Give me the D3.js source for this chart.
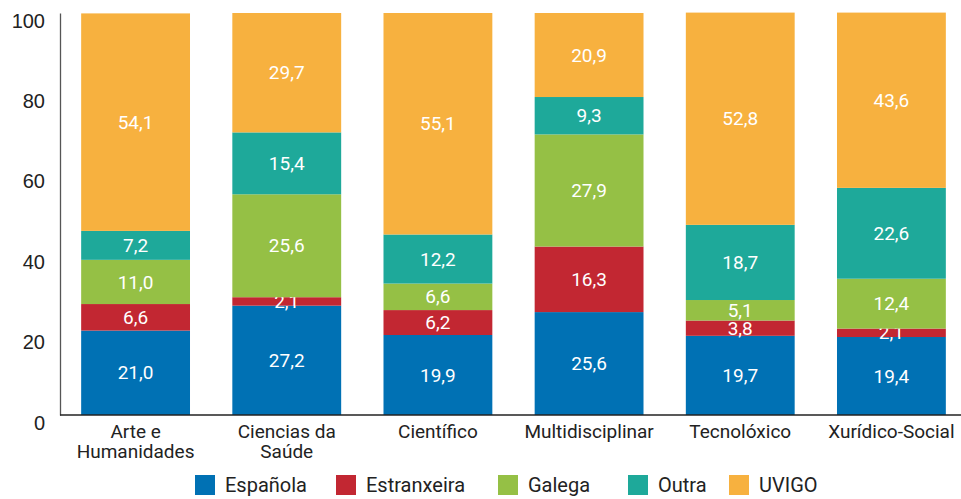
<!DOCTYPE html>
<html lang="gl">
<head>
<meta charset="utf-8">
<title>Stacked bars</title>
<script src="https://cdn.jsdelivr.net/npm/d3@7"></script>
<style>
  body { margin: 0; background: #fff; }
  svg { display: block; font-family: Roboto, "Open Sans", sans-serif; }
  .tick text { fill: #222; font-size: 20px; }
  .cat { fill: #222; font-size: 19px; }
  .val { fill: #fff; font-size: 19px; }
  .leg { fill: #222; font-size: 20px; }
</style>
</head>
<body>
<svg width="961" height="499"></svg>
<script>
// categories (second line of label after "\n")
var categories = ["Arte e\nHumanidades", "Ciencias da\nSaúde", "Científico", "Multidisciplinar", "Tecnolóxico", "Xurídico-Social"];
var seriesNames = ["Española", "Estranxeira", "Galega", "Outra", "UVIGO"];
var espanola    = [21.0, 27.2, 19.9, 25.6, 19.7, 19.4];
var estranxeira = [6.6, 2.1, 6.2, 16.3, 3.8, 2.1];
var galega      = [11.0, 25.6, 6.6, 27.9, 5.1, 12.4];
var outra       = [7.2, 15.4, 12.2, 9.3, 18.7, 22.6];
var uvigo       = [54.1, 29.7, 55.1, 20.9, 52.8, 43.6];
var yTicks = [0, 20, 40, 60, 80, 100];
var colors = ["#0071b4", "#c22732", "#95c045", "#1ea99a", "#f7b13f"];

var svg = d3.select("svg");
var marginLeft = 60, baseY = 415, topY = 13;

var rows = categories.map(function(c, i) {
  return { cat: c, "Española": espanola[i], "Estranxeira": estranxeira[i],
           "Galega": galega[i], "Outra": outra[i], "UVIGO": uvigo[i] };
});

var stack = d3.stack().keys(seriesNames)(rows);

var x = d3.scaleBand().domain(categories).range([marginLeft, 967]).paddingInner(0.28).paddingOuter(0.14);
var y = d3.scaleLinear().domain([0, 100]).range([baseY, topY]);
var color = d3.scaleOrdinal().domain(seriesNames).range(colors);

// bars
var layer = svg.selectAll("g.layer").data(stack).enter().append("g")
  .attr("class", "layer")
  .attr("fill", function(d) { return color(d.key); });

layer.selectAll("rect").data(function(d) { return d; }).enter().append("rect")
  .attr("x", function(d) { return x(d.data.cat); })
  .attr("width", x.bandwidth())
  .attr("y", function(d) { return y(d[1]); })
  .attr("height", function(d) { return y(d[0]) - y(d[1]); });

// value labels
layer.selectAll("text").data(function(d) { return d; }).enter().append("text")
  .attr("class", "val")
  .attr("text-anchor", "middle")
  .attr("dy", "0.35em")
  .attr("x", function(d) { return x(d.data.cat) + x.bandwidth() / 2; })
  .attr("y", function(d) { return (y(d[0]) + y(d[1])) / 2; })
  .text(function(d) { return (d[1] - d[0]).toFixed(1).replace(".", ","); });

// y axis
var yAxis = svg.append("g")
  .attr("transform", "translate(" + marginLeft + ",0)")
  .call(d3.axisLeft(y).tickValues(yTicks).tickSize(0).tickPadding(15));
yAxis.select(".domain").attr("stroke", "#555").attr("stroke-width", 1.3);
yAxis.selectAll(".tick text").attr("font-family", null).attr("font-size", null).attr("dy", "0.7em");

// baseline
svg.append("line")
  .attr("x1", marginLeft).attr("x2", 961)
  .attr("y1", baseY).attr("y2", baseY)
  .attr("stroke", "#222").attr("stroke-width", 1.3);

// category labels
var catText = svg.selectAll("text.cat").data(categories).enter().append("text")
  .attr("class", "cat")
  .attr("text-anchor", "middle")
  .attr("x", function(d) { return x(d) + x.bandwidth() / 2; })
  .attr("y", 438);
catText.selectAll("tspan").data(function(d) { return d.split("\n"); }).enter().append("tspan")
  .attr("x", function() { return d3.select(this.parentNode).attr("x"); })
  .attr("dy", function(d, i) { return i ? 20 : 0; })
  .text(function(d) { return d; });

// legend
var legX = [195, 336, 498, 628, 729];
var leg = svg.selectAll("g.legend").data(seriesNames).enter().append("g")
  .attr("class", "legend")
  .attr("transform", function(d, i) { return "translate(" + legX[i] + ",475)"; });
leg.append("rect").attr("width", 20).attr("height", 20).attr("fill", function(d) { return color(d); });
leg.append("text").attr("class", "leg").attr("x", 30).attr("y", 17).text(function(d) { return d; });
</script>
</body>
</html>
